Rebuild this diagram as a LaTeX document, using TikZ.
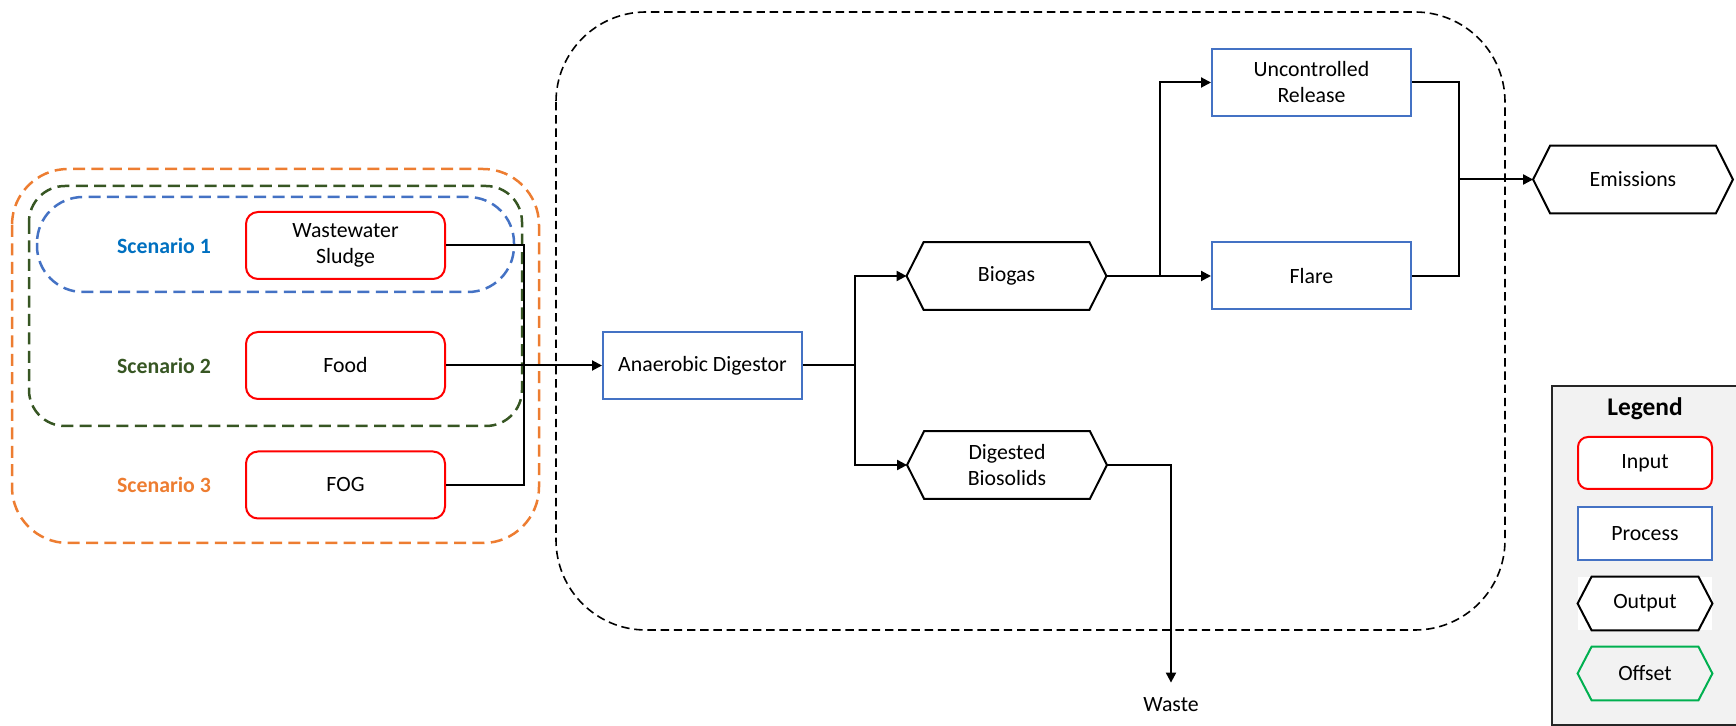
\documentclass[tikz,border=0pt]{standalone}
\usepackage{fontspec}
\setmainfont{Carlito}
\usetikzlibrary{arrows.meta}
\definecolor{inred}{HTML}{FF0000}
\definecolor{procblue}{HTML}{4472C4}
\definecolor{scone}{HTML}{0070C0}
\definecolor{sctwo}{HTML}{375623}
\definecolor{scthree}{HTML}{ED7D31}
\definecolor{offgreen}{HTML}{00B050}
\definecolor{legfill}{HTML}{F2F2F2}
\newcommand\hexline[3]{%
 \draw[#2, line width=1pt, line join=miter] (#1.west) -- ([xshift=#3]#1.north west) -- ([xshift=-#3]#1.north east) -- (#1.east) -- ([xshift=-#3]#1.south east) -- ([xshift=#3]#1.south west) -- cycle;}
\begin{document}
\begin{tikzpicture}[x=0.5pt, y=-0.5pt,
  every node/.style={font=\fontsize{10.9}{13}\selectfont},
  inbox/.style={draw=inred, line width=1pt, rounded corners=6pt, fill=white, minimum width=99.5pt, minimum height=33.5pt, inner sep=0pt, align=center},
  procbox/.style={draw=procblue, line width=1pt, fill=white, minimum width=99.5pt, minimum height=33.5pt, inner sep=0pt, align=center},
  outbox/.style={minimum width=99.5pt, minimum height=33.5pt, inner sep=0pt, align=center},
  scen/.style={font=\fontsize{10.9}{13}\selectfont\bfseries},
  conn/.style={line width=1pt},
  arr/.style={line width=1pt, -{Triangle[length=5pt,width=5pt]}},
  bound/.style={dash pattern=on 6pt off 3.2pt, line width=1.25pt},
]
\useasboundingbox (0,0) rectangle (1736,726);

% scenario boundaries
\draw[bound, scthree, rounded corners=28pt] (12,169) rectangle (539,543);
\draw[bound, sctwo, rounded corners=18pt] (29,186) rectangle (522,426);
\draw[bound, procblue, rounded corners=23pt] (37,197) rectangle (514,292);

% system boundary
\draw[dash pattern=on 4.2pt off 2.4pt, line width=0.8pt, rounded corners=45pt] (556,12) rectangle (1505,630);

% scenario labels
\node[scen, text=scone] (s1) at (164,245.5) {Scenario 1};
\node[scen, text=sctwo] (s2) at (164,365.5) {Scenario 2};
\node[scen, text=scthree] (s3) at (164,485) {Scenario 3};

% inputs
\node[inbox] (WS) at (345.5,245.5) {Wastewater\\Sludge};
\node[inbox] (FD) at (345.5,365.5) {Food};
\node[inbox] (FOG) at (345.5,485) {FOG};

% processes
\node[procbox] (AD) at (702.5,365.5) {Anaerobic Digestor};
\node[procbox] (UR) at (1311.5,82.5) {Uncontrolled\\Release};
\node[procbox] (FL) at (1311.5,276) {Flare};

% outputs
\node[outbox] (BG) at (1006.5,276) {Biogas};
\node[outbox] (DB) at (1007,465) {Digested\\Biosolids};
\node[outbox] (EM) at (1633,179.5) {Emissions};
\hexline{BG}{black}{8.5pt}
\hexline{DB}{black}{8.5pt}
\hexline{EM}{black}{8.5pt}

\node[inner xsep=0pt, inner ysep=7.5pt, anchor=base] (W) at (1171,712) {Waste};

% connectors
\coordinate (J) at (524,365.5);
\draw[conn] (WS.east) -| (J);
\draw[conn] (FOG.east) -| (J);
\draw[arr] (FD.east) -- (AD.west);

\coordinate (B1) at (855,365.5);
\draw[conn] (AD.east) -- (B1);
\draw[arr] (B1) |- (BG.west);
\draw[arr] (B1) |- (DB.west);

\coordinate (B2) at (1160,276);
\draw[conn] (BG.east) -- (B2);
\draw[arr] (B2) |- (UR.west);
\draw[arr] (B2) -- (FL.west);

\coordinate (M) at (1459,179.5);
\draw[conn] (UR.east) -| (M);
\draw[conn] (FL.east) -| (M);
\draw[arr] (M) -- (EM.west);

\draw[arr] (DB.east) -| (W.north);

% legend
\draw[line width=1pt, draw=black!85, fill=legfill] (1552,386) rectangle (1740,725);
\node[font=\fontsize{12.7}{15}\selectfont\bfseries] (LT) at (1645,409) {Legend};
\node[inbox, rounded corners=5pt, minimum width=67pt, minimum height=26pt] (LI) at (1645,463) {Input};
\node[procbox, minimum width=67pt, minimum height=26.5pt] (LP) at (1645,533.5) {Process};
\node[outbox, minimum width=67pt, minimum height=26.5pt, fill=white] (LO) at (1645,603.5) {Output};
\node[outbox, minimum width=67pt, minimum height=26.5pt] (LF) at (1645,673.5) {Offset};
\hexline{LO}{black}{7pt}
\hexline{LF}{offgreen}{7pt}
\end{tikzpicture}
\end{document}
